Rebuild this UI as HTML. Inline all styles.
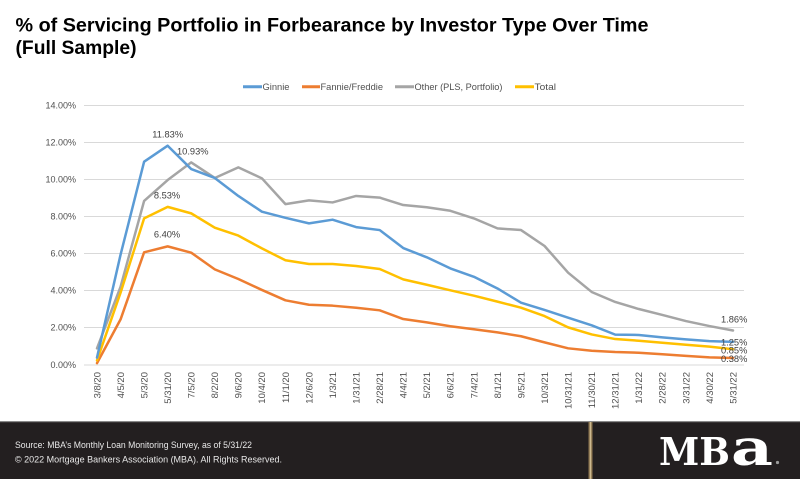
<!DOCTYPE html>
<html>
<head>
<meta charset="utf-8">
<style>
  html,body{margin:0;padding:0;background:#fff;}
  body{width:800px;height:479px;overflow:hidden;}
  svg{display:block;}
  .ax{font-family:"Liberation Sans",Arial,sans-serif;font-size:9px;fill:#505050;}
  .lg{font-family:"Liberation Sans",Arial,sans-serif;font-size:9.3px;fill:#505050;}
  .dl{font-family:"Liberation Sans",Arial,sans-serif;font-size:9.3px;fill:#404040;}
</style>
</head>
<body>
<svg width="800" height="479" viewBox="0 0 800 479" xmlns="http://www.w3.org/2000/svg">
  <rect x="0" y="0" width="800" height="479" fill="#ffffff"/>

  <!-- Title -->
  <text x="15.5" y="31.7" font-family="Liberation Sans, Arial, sans-serif" font-weight="bold" font-size="19" fill="#000" textLength="633" lengthAdjust="spacingAndGlyphs">% of Servicing Portfolio in Forbearance by Investor Type Over Time</text>
  <text x="15.5" y="54" font-family="Liberation Sans, Arial, sans-serif" font-weight="bold" font-size="19" fill="#000" textLength="121" lengthAdjust="spacingAndGlyphs">(Full Sample)</text>

  <!-- Legend -->
  <line x1="243" y1="86.7" x2="262" y2="86.7" stroke="#5b9bd5" stroke-width="3"/>
  <text class="lg" x="262.5" y="89.9" textLength="27" lengthAdjust="spacingAndGlyphs">Ginnie</text>
  <line x1="302" y1="86.7" x2="320" y2="86.7" stroke="#ed7d31" stroke-width="3"/>
  <text class="lg" x="320.5" y="89.9" textLength="62.5" lengthAdjust="spacingAndGlyphs">Fannie/Freddie</text>
  <line x1="395" y1="86.7" x2="414" y2="86.7" stroke="#a5a5a5" stroke-width="3"/>
  <text class="lg" x="414.5" y="89.9" textLength="88" lengthAdjust="spacingAndGlyphs">Other (PLS, Portfolio)</text>
  <line x1="515" y1="86.7" x2="534" y2="86.7" stroke="#ffc000" stroke-width="3"/>
  <text class="lg" x="534.5" y="89.9" textLength="21.5" lengthAdjust="spacingAndGlyphs">Total</text>

  <!-- Gridlines -->
  <g stroke="#d9d9d9" stroke-width="1">
    <line x1="84" y1="105.5" x2="744" y2="105.5"/>
    <line x1="84" y1="142.5" x2="744" y2="142.5"/>
    <line x1="84" y1="179.5" x2="744" y2="179.5"/>
    <line x1="84" y1="216.5" x2="744" y2="216.5"/>
    <line x1="84" y1="253.5" x2="744" y2="253.5"/>
    <line x1="84" y1="290.5" x2="744" y2="290.5"/>
    <line x1="84" y1="327.5" x2="744" y2="327.5"/>
    <line x1="84" y1="365" x2="744" y2="365"/>
  </g>

  <!-- Y labels -->
  <g class="ax" text-anchor="end">
    <text x="76" y="108.7">14.00%</text>
    <text x="76" y="145.7">12.00%</text>
    <text x="76" y="182.7">10.00%</text>
    <text x="76" y="219.7">8.00%</text>
    <text x="76" y="256.7">6.00%</text>
    <text x="76" y="293.7">4.00%</text>
    <text x="76" y="330.7">2.00%</text>
    <text x="76" y="368.2">0.00%</text>
  </g>

  <!-- X labels -->
  <g class="ax" text-anchor="end" style="font-size:9.5px">
    <text transform="translate(100.3,372) rotate(-90)">3/8/20</text>
    <text transform="translate(123.9,372) rotate(-90)">4/5/20</text>
    <text transform="translate(147.4,372) rotate(-90)">5/3/20</text>
    <text transform="translate(171.0,372) rotate(-90)">5/31/20</text>
    <text transform="translate(194.5,372) rotate(-90)">7/5/20</text>
    <text transform="translate(218.1,372) rotate(-90)">8/2/20</text>
    <text transform="translate(241.7,372) rotate(-90)">9/6/20</text>
    <text transform="translate(265.2,372) rotate(-90)">10/4/20</text>
    <text transform="translate(288.8,372) rotate(-90)">11/1/20</text>
    <text transform="translate(312.3,372) rotate(-90)">12/6/20</text>
    <text transform="translate(335.9,372) rotate(-90)">1/3/21</text>
    <text transform="translate(359.5,372) rotate(-90)">1/31/21</text>
    <text transform="translate(383.0,372) rotate(-90)">2/28/21</text>
    <text transform="translate(406.6,372) rotate(-90)">4/4/21</text>
    <text transform="translate(430.1,372) rotate(-90)">5/2/21</text>
    <text transform="translate(453.7,372) rotate(-90)">6/6/21</text>
    <text transform="translate(477.3,372) rotate(-90)">7/4/21</text>
    <text transform="translate(500.8,372) rotate(-90)">8/1/21</text>
    <text transform="translate(524.4,372) rotate(-90)">9/5/21</text>
    <text transform="translate(547.9,372) rotate(-90)">10/3/21</text>
    <text transform="translate(571.5,372) rotate(-90)">10/31/21</text>
    <text transform="translate(595.1,372) rotate(-90)">11/30/21</text>
    <text transform="translate(618.6,372) rotate(-90)">12/31/21</text>
    <text transform="translate(642.2,372) rotate(-90)">1/31/22</text>
    <text transform="translate(665.7,372) rotate(-90)">2/28/22</text>
    <text transform="translate(689.3,372) rotate(-90)">3/31/22</text>
    <text transform="translate(712.9,372) rotate(-90)">4/30/22</text>
    <text transform="translate(736.3,372) rotate(-90)">5/31/22</text>
  </g>

  <!-- Series -->
  <g transform="translate(97,365) scale(23.556,-18.536)" fill="none" stroke-linejoin="round" stroke-linecap="round">
    <polyline vector-effect="non-scaling-stroke" stroke="#a5a5a5" stroke-width="2.5"
      points="0,0.9 1,4.22 2,8.85 3,9.98 4,10.93 5,10.09 6,10.66 7,10.07 8,8.68 9,8.88 10,8.77 11,9.12 12,9.03 13,8.63 14,8.51 15,8.32 16,7.91 17,7.37 18,7.28 19,6.42 20,4.98 21,3.94 22,3.40 23,3.02 24,2.70 25,2.37 26,2.10 27,1.86"/>
    <polyline vector-effect="non-scaling-stroke" stroke="#ed7d31" stroke-width="2.5"
      points="0,0.1 1,2.46 2,6.08 3,6.40 4,6.06 5,5.16 6,4.64 7,4.05 8,3.49 9,3.25 10,3.20 11,3.09 12,2.95 13,2.48 14,2.30 15,2.09 16,1.93 17,1.76 18,1.55 19,1.22 20,0.90 21,0.77 22,0.70 23,0.66 24,0.58 25,0.49 26,0.41 27,0.38"/>
    <polyline vector-effect="non-scaling-stroke" stroke="#ffc000" stroke-width="2.5"
      points="0,0.25 1,3.9 2,7.91 3,8.53 4,8.18 5,7.41 6,6.98 7,6.29 8,5.65 9,5.45 10,5.45 11,5.34 12,5.18 13,4.62 14,4.33 15,4.03 16,3.74 17,3.42 18,3.09 19,2.64 20,2.03 21,1.65 22,1.40 23,1.31 24,1.20 25,1.09 26,0.99 27,0.85"/>
    <polyline vector-effect="non-scaling-stroke" stroke="#5b9bd5" stroke-width="2.5"
      points="0,0.4 1,5.95 2,10.97 3,11.83 4,10.57 5,10.09 6,9.12 7,8.27 8,7.94 9,7.64 10,7.84 11,7.44 12,7.28 13,6.31 14,5.81 15,5.21 16,4.76 17,4.13 18,3.36 19,2.97 20,2.55 21,2.14 22,1.64 23,1.62 24,1.49 25,1.38 26,1.29 27,1.25"/>
  </g>

  <!-- Data labels -->
  <text class="dl" x="167.7" y="137.5" text-anchor="middle">11.83%</text>
  <text class="dl" x="177" y="154.5">10.93%</text>
  <text class="dl" x="167" y="198.3" text-anchor="middle">8.53%</text>
  <text class="dl" x="167" y="237.3" text-anchor="middle">6.40%</text>
  <text class="dl" x="721" y="322.3">1.86%</text>
  <text class="dl" x="721" y="345.3">1.25%</text>
  <text class="dl" x="721" y="353.3">0.85%</text>
  <text class="dl" x="721" y="362">0.38%</text>

  <!-- Footer -->
  <rect x="0" y="422" width="800" height="57" fill="#231f20"/>
  <rect x="0" y="421" width="800" height="1.2" fill="#8a8a8a"/>
  <rect x="588.5" y="422" width="4" height="57" fill="#8c7650"/>
  <rect x="589.8" y="422" width="1.4" height="57" fill="#cdb98f"/>
  <text x="15" y="448" font-family="Liberation Sans, Arial, sans-serif" font-size="9" fill="#e8e8e8" textLength="237" lengthAdjust="spacingAndGlyphs">Source: MBA’s Monthly Loan Monitoring Survey, as of 5/31/22</text>
  <text x="15" y="462.7" font-family="Liberation Sans, Arial, sans-serif" font-size="9" fill="#e8e8e8" textLength="267" lengthAdjust="spacingAndGlyphs">© 2022 Mortgage Bankers Association (MBA). All Rights Reserved.</text>

  <!-- MBA logo -->
  <text x="659" y="465" font-family="DejaVu Serif, Liberation Serif, serif" font-weight="bold" font-size="38" fill="#ffffff" textLength="71" lengthAdjust="spacingAndGlyphs">MB</text>
  <text x="731" y="465" font-family="DejaVu Serif, Liberation Serif, serif" font-weight="bold" font-size="50" fill="#ffffff" textLength="42" lengthAdjust="spacingAndGlyphs">a</text>
  <circle cx="777.5" cy="462.5" r="1.6" fill="#9a9a9a"/>
</svg>
</body>
</html>
